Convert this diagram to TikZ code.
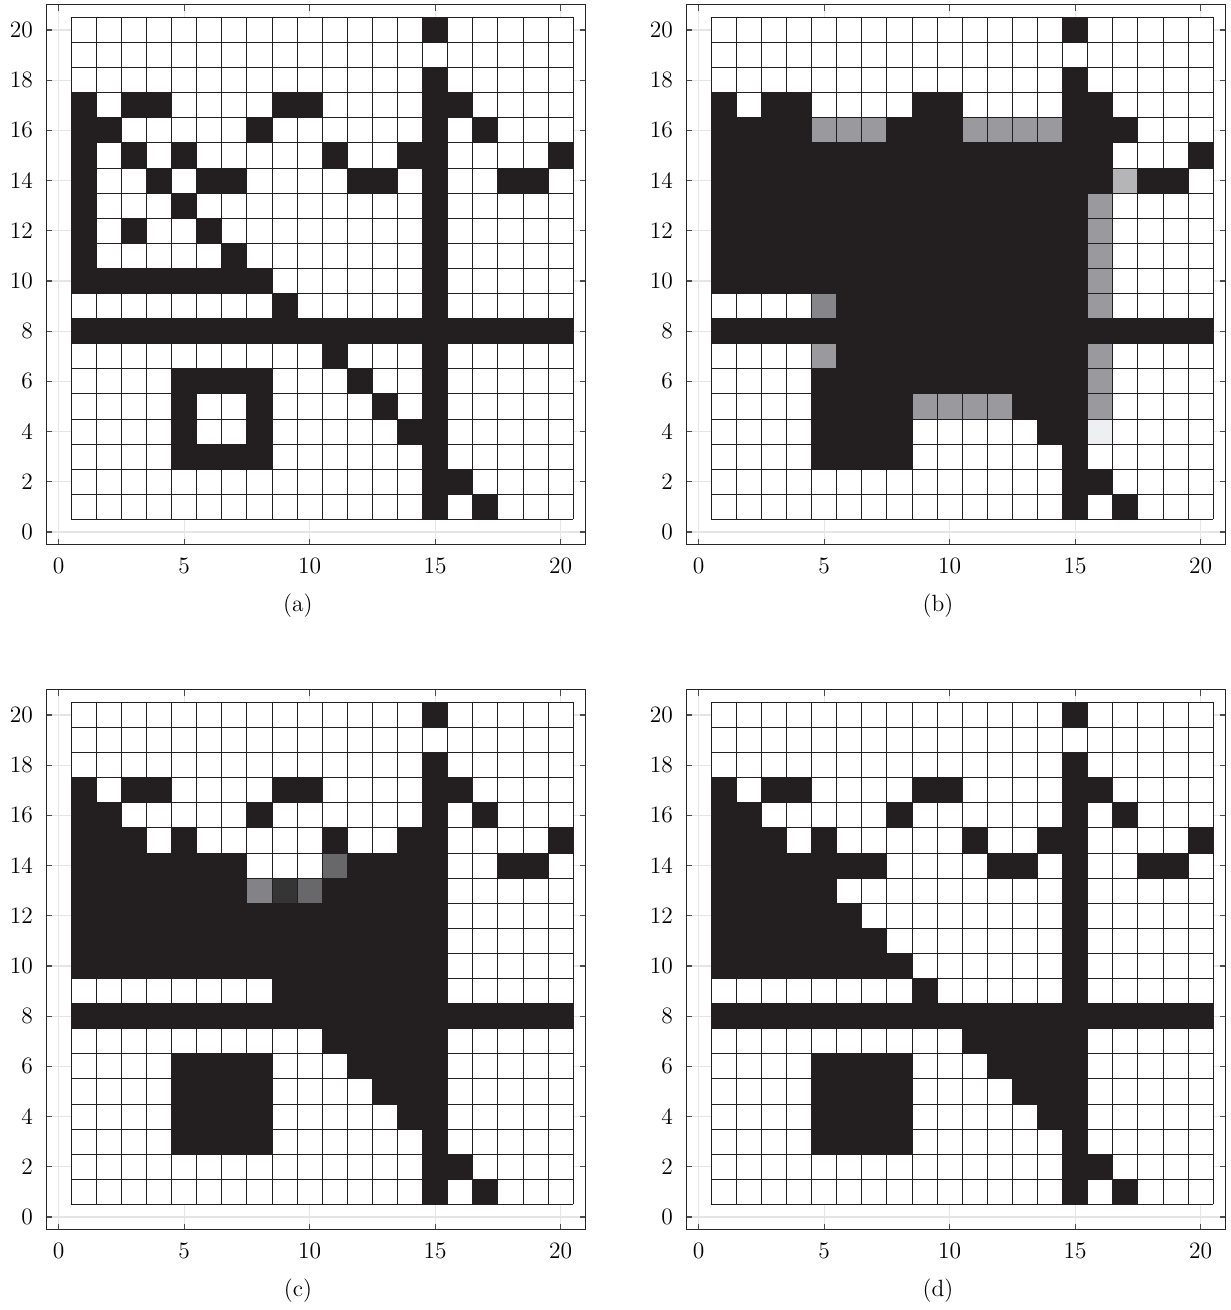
\documentclass[tikz,border=0pt]{standalone}
\definecolor{blk}{RGB}{35,31,32}
\definecolor{gA}{RGB}{154,154,158}
\definecolor{gB}{RGB}{134,134,138}
\definecolor{gC}{RGB}{181,181,184}
\definecolor{gD}{RGB}{238,239,240}
\definecolor{gE}{RGB}{104,104,106}
\definecolor{gF}{RGB}{131,131,135}
\definecolor{gG}{RGB}{53,53,53}
\tikzset{
  gridln/.style={draw=blk, line width=0.5pt},
  majorgrid/.style={draw=black!10, line width=0.6pt},
  framebox/.style={draw=black!85, line width=0.6pt},
  tickmk/.style={draw=black!70, line width=0.6pt},
  ticklab/.style={inner sep=0pt, font=\fontsize{11.75}{14}\selectfont},
  caplab/.style={inner sep=0pt, font=\fontsize{11.75}{14}\selectfont},
}
\newcommand\PanelBase{%
  \fill[white] (-0.5,-0.5) rectangle (21,21);
  \foreach \t in {0,5,...,20} {\draw[majorgrid] (\t,-0.5) -- (\t,21);}
  \foreach \t in {0,2,...,20} {\draw[majorgrid] (-0.5,\t) -- (21,\t);}
  \fill[white] (0.5,0.5) rectangle (20.5,20.5);
}
\newcommand\BlackRows[1]{%
  \foreach \yy/\xs in {#1} {\foreach \xx in \xs {\fill[blk] (\xx-0.5,\yy-0.5) rectangle ++(1,1);}}
}
\newcommand\GCell[3]{\fill[#3] (#1-0.5,#2-0.5) rectangle ++(1,1);}
\newcommand\PanelTop[1]{%
  \foreach \k in {0,...,20} {
    \draw[gridln] (\k+0.5,0.5) -- (\k+0.5,20.5);
    \draw[gridln] (0.5,\k+0.5) -- (20.5,\k+0.5);
  }
  \foreach \t in {0,2,...,20} {
    \draw[tickmk] (-0.5,\t) -- ++(0.24,0);
    \draw[tickmk] (21,\t) -- ++(-0.24,0);
    \node[ticklab, anchor=east] (#1yl\t) at (-1.01,\t) {\t};
  }
  \foreach \t in {0,5,...,20} {
    \draw[tickmk] (\t,-0.5) -- ++(0,0.24);
    \draw[tickmk] (\t,21) -- ++(0,-0.24);
    \node[ticklab, anchor=north] (#1xl\t) at (\t,-1.0) {\t};
  }
  \draw[framebox] (-0.5,-0.5) rectangle (21,21);
  \node[caplab] (#1cap) at (9.53,-2.95) {(#1)};
}
\begin{document}
\begin{tikzpicture}
\useasboundingbox (0,0) rectangle (615pt,655pt);
\fill[white] (0,0) rectangle (615pt,655pt);
% ---------- (a)
\begin{scope}[shift={(29.35pt,389pt)}, x=12.55pt, y=12.55pt]
\PanelBase
\BlackRows{20/{15},18/{15},17/{1,3,4,9,10,15,16},16/{1,2,8,15,17},
 15/{1,3,5,11,14,15,20},14/{1,4,6,7,12,13,15,18,19},13/{1,5,15},12/{1,3,6,15},
 11/{1,7,15},10/{1,2,3,4,5,6,7,8,15},9/{9,15},8/{1,...,20},7/{11,15},
 6/{5,6,7,8,12,15},5/{5,8,13,15},4/{5,8,14,15},3/{5,6,7,8,15},2/{15,16},1/{15,17}}
\PanelTop{a}
\end{scope}
% ---------- (b)
\begin{scope}[shift={(349.35pt,389pt)}, x=12.55pt, y=12.55pt]
\PanelBase
\BlackRows{20/{15},18/{15},17/{1,3,4,9,10,15,16},16/{1,2,3,4,8,9,10,15,16,17},
 15/{1,...,16,20},14/{1,...,16,18,19},13/{1,...,15},12/{1,...,15},11/{1,...,15},
 10/{1,...,15},9/{6,...,15},8/{1,...,20},7/{6,...,15},6/{5,...,15},
 5/{5,6,7,8,13,14,15},4/{5,6,7,8,14,15},3/{5,6,7,8,15},2/{15,16},1/{15,17}}
\foreach \xx in {5,6,7,11,12,13,14} {\GCell{\xx}{16}{gA}}
\foreach \yy in {5,6,7,9,10,11,12,13} {\GCell{16}{\yy}{gA}}
\foreach \xx in {9,10,11,12} {\GCell{\xx}{5}{gA}}
\GCell{5}{7}{gA}
\GCell{5}{9}{gB}
\GCell{17}{14}{gC}
\GCell{16}{4}{gD}
\PanelTop{b}
\end{scope}
% ---------- (c)
\begin{scope}[shift={(29.35pt,46.5pt)}, x=12.55pt, y=12.55pt]
\PanelBase
\BlackRows{20/{15},18/{15},17/{1,3,4,9,10,15,16},16/{1,2,8,15,17},
 15/{1,2,3,5,11,14,15,20},14/{1,...,7,12,13,14,15,18,19},13/{1,...,7,11,12,13,14,15},
 12/{1,...,15},11/{1,...,15},10/{1,...,15},9/{9,...,15},8/{1,...,20},7/{11,...,15},
 6/{5,6,7,8,12,13,14,15},5/{5,6,7,8,13,14,15},4/{5,6,7,8,14,15},3/{5,6,7,8,15},2/{15,16},1/{15,17}}
\GCell{11}{14}{gE}
\GCell{8}{13}{gF}
\GCell{9}{13}{gG}
\GCell{10}{13}{gE}
\PanelTop{c}
\end{scope}
% ---------- (d)
\begin{scope}[shift={(349.35pt,46.5pt)}, x=12.55pt, y=12.55pt]
\PanelBase
\BlackRows{20/{15},18/{15},17/{1,3,4,9,10,15,16},16/{1,2,8,15,17},
 15/{1,2,3,5,11,14,15,20},14/{1,...,7,12,13,15,18,19},13/{1,...,5,15},
 12/{1,...,6,15},11/{1,...,7,15},10/{1,...,8,15},9/{9,15},8/{1,...,20},7/{11,...,15},
 6/{5,6,7,8,12,13,14,15},5/{5,6,7,8,13,14,15},4/{5,6,7,8,14,15},3/{5,6,7,8,15},2/{15,16},1/{15,17}}
\PanelTop{d}
\end{scope}
\end{tikzpicture}
\end{document}
